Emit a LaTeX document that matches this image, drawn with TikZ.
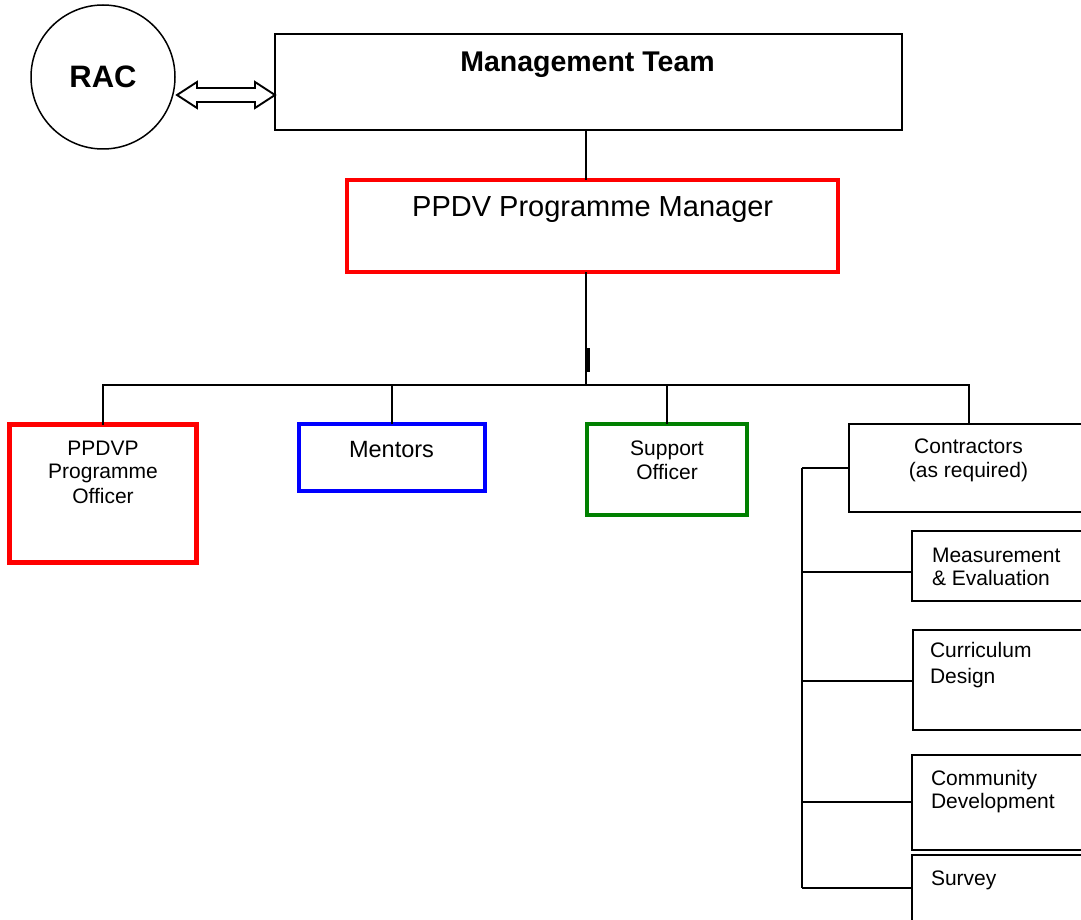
\documentclass[tikz,border=0pt]{standalone}
\usepackage{fontspec}
\setmainfont{Liberation Sans}
\usetikzlibrary{calc}
\definecolor{boxred}{RGB}{255,0,0}
\definecolor{boxblue}{RGB}{0,0,255}
\definecolor{boxgreen}{RGB}{0,128,0}
\begin{document}
\begin{tikzpicture}[x=1pt,y=-1pt,
  conn/.style={draw=black,line width=1.5pt},
  bx/.style={draw=black,line width=2pt,fill=white,rectangle,inner sep=0pt,outer sep=0pt},
  redbox/.style={bx,draw=boxred,line width=4.5pt},
  bluebox/.style={bx,draw=boxblue,line width=4.5pt},
  greenbox/.style={bx,draw=boxgreen,line width=4.5pt},
  lbl/.style={inner sep=0pt,outer sep=0pt,anchor=base,font=\fontsize{21}{24}\selectfont},
  lbll/.style={lbl,anchor=base west}]
\useasboundingbox (0,0) rectangle (1081,920);
\clip (0,0) rectangle (1081,920);
\fill[white] (0,0) rectangle (1081,920);

% boxes
\node[circle,draw=black,line width=1.5pt,minimum size=144pt,inner sep=0pt,outer sep=0pt,
      font=\bfseries\fontsize{31}{34}\selectfont] (rac) at (103,77) {RAC};
\node[bx,minimum width=627pt,minimum height=96pt] (mgmt) at (588.5,82) {};
\node[redbox,minimum width=491pt,minimum height=92pt] (mgr) at (592.5,226) {};
\node[redbox,minimum width=187pt,minimum height=138pt] (ppdvp) at (103,493.5) {};
\node[bluebox,minimum width=186pt,minimum height=67pt] (mentors) at (392,457.5) {};
\node[greenbox,minimum width=160pt,minimum height=91pt] (support) at (667,469.5) {};
\node[bx,minimum width=251pt,minimum height=88pt] (contr) at (974.5,468) {};
\node[bx,minimum width=188pt,minimum height=70pt] (meas) at (1006,566) {};
\node[bx,minimum width=187pt,minimum height=100pt] (curr) at (1006.5,680) {};
\node[bx,minimum width=188pt,minimum height=95pt] (comm) at (1006,802.5) {};
\node[bx,minimum width=188pt,minimum height=70pt] (survey) at (1006,890) {};

% double arrow between RAC and Management Team
\coordinate (aL) at (177,95);
\coordinate (aR) at (mgmt.west |- aL);
\draw[line width=1.9pt,fill=white,line join=miter]
  (aL) -- ++(20,-13) -- ++(0,6) -- ($(aR)+(-20,-7)$) -- ++(0,-6) -- (aR)
  -- ++(-20,13) -- ++(0,-6) -- ($(aL)+(20,7)$) -- ++(0,6) -- cycle;

% main connectors
\coordinate (j) at (586,385);
\coordinate (cj) at (969,385);
\draw[conn] (mgmt.south -| j) -- (mgr.north -| j);
\draw[conn] (mgr.south -| j) -- (j);
\draw[line width=4pt] (587.5,348) -- (587.5,372);
\draw[conn] (ppdvp.north) |- (cj) -- (cj |- contr.north);
\draw[conn] (mentors.north) -- (mentors.north |- j);
\draw[conn] (support.north) -- (support.north |- j);

% contractors branch
\coordinate (lb) at (802,468);
\coordinate (m1) at (802,572);
\coordinate (m2) at (802,681);
\coordinate (m3) at (802,802);
\coordinate (m4) at (802,888);
\draw[line width=2.5pt] (contr.west) -- (lb);
\draw[conn] (lb) -- (m4);
\draw[conn] (m1) -- (m1 -| meas.west);
\draw[conn] (m2) -- (m2 -| curr.west);
\draw[conn] (m3) -- (m3 -| comm.west);
\draw[conn] (m4) -- (m4 -| survey.west);

% labels
\node[lbl,font=\bfseries\fontsize{28.5}{32}\selectfont] (tmgmt) at (587.5,72) {Management Team};
\node[lbl,font=\fontsize{29}{32}\selectfont] (tmgr) at (592.7,217) {PPDV Programme Manager};
\node[lbl] (tp1) at (103,455) {PPDVP};
\node[lbl] (tp2) at (103,478) {Programme};
\node[lbl] (tp3) at (103,503) {Officer};
\node[lbl,font=\fontsize{23.5}{27}\selectfont] (tmen) at (391.5,457) {Mentors};
\node[lbl] (ts1) at (667,455) {Support};
\node[lbl] (ts2) at (667,479) {Officer};
\node[lbl] (tc1) at (968.5,453) {Contractors};
\node[lbl] (tc2) at (968.5,477) {(as required)};
\node[lbll] (tm1) at (932,562) {Measurement};
\node[lbll] (tm2) at (932,585) {\& Evaluation};
\node[lbll] (tcu1) at (930,657) {Curriculum};
\node[lbll] (tcu2) at (930,683) {Design};
\node[lbll] (tco1) at (931,785) {Community};
\node[lbll] (tco2) at (931,808) {Development};
\node[lbll] (tsv) at (931,885) {Survey};
\end{tikzpicture}
\end{document}
